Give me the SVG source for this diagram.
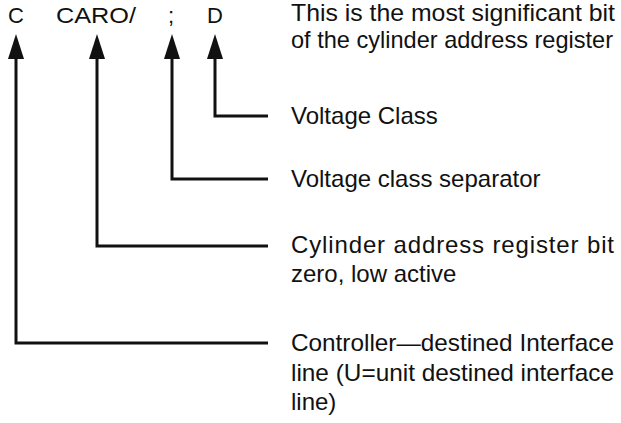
<svg xmlns="http://www.w3.org/2000/svg" width="621" height="423" viewBox="0 0 621 423">
<style>
text{font-family:"Liberation Sans",Arial,sans-serif;fill:#111}
.t{font-size:22px}
.d{font-size:24px}
.c{fill:none;stroke:#111;stroke-width:3}
.h{fill:#111}
</style>
<rect width="621" height="423" fill="#fff"/>
<g id="labels">
<text class="t" x="8" y="23">C</text>
<text class="t" x="56" y="23" textLength="80" lengthAdjust="spacingAndGlyphs">CARO/</text>
<text class="t" x="168" y="23">;</text>
<text class="t" x="207" y="23">D</text>
</g>
<g id="connectors">
<path class="c" d="M215,55 V116 H268"/>
<polygon class="h" points="215,34 207,59 223,59"/>
<path class="c" d="M172,55 V179 H268"/>
<polygon class="h" points="172,34 164,59 180,59"/>
<path class="c" d="M97,55 V246 H268"/>
<polygon class="h" points="97,34 89,59 105,59"/>
<path class="c" d="M16,55 V343 H268"/>
<polygon class="h" points="16,34 8,59 24,59"/>
</g>
<g id="msb">
<text class="d" x="291" y="21" textLength="324" lengthAdjust="spacingAndGlyphs">This is the most significant bit</text>
<text class="d" x="291" y="48" textLength="322" lengthAdjust="spacingAndGlyphs">of the cylinder address register</text>
</g>
<g id="voltage-class">
<text class="d" x="291" y="124">Voltage Class</text>
</g>
<g id="separator">
<text class="d" x="291" y="187">Voltage class separator</text>
</g>
<g id="cylinder-bit">
<text class="d" x="291" y="253" textLength="323" lengthAdjust="spacing">Cylinder address register bit</text>
<text class="d" x="291" y="282">zero, low active</text>
</g>
<g id="controller">
<text class="d" x="291" y="351" textLength="323" lengthAdjust="spacingAndGlyphs">Controller—destined Interface</text>
<text class="d" x="291" y="381" textLength="323" lengthAdjust="spacingAndGlyphs">line (U=unit destined interface</text>
<text class="d" x="291" y="410">line)</text>
</g>
</svg>
